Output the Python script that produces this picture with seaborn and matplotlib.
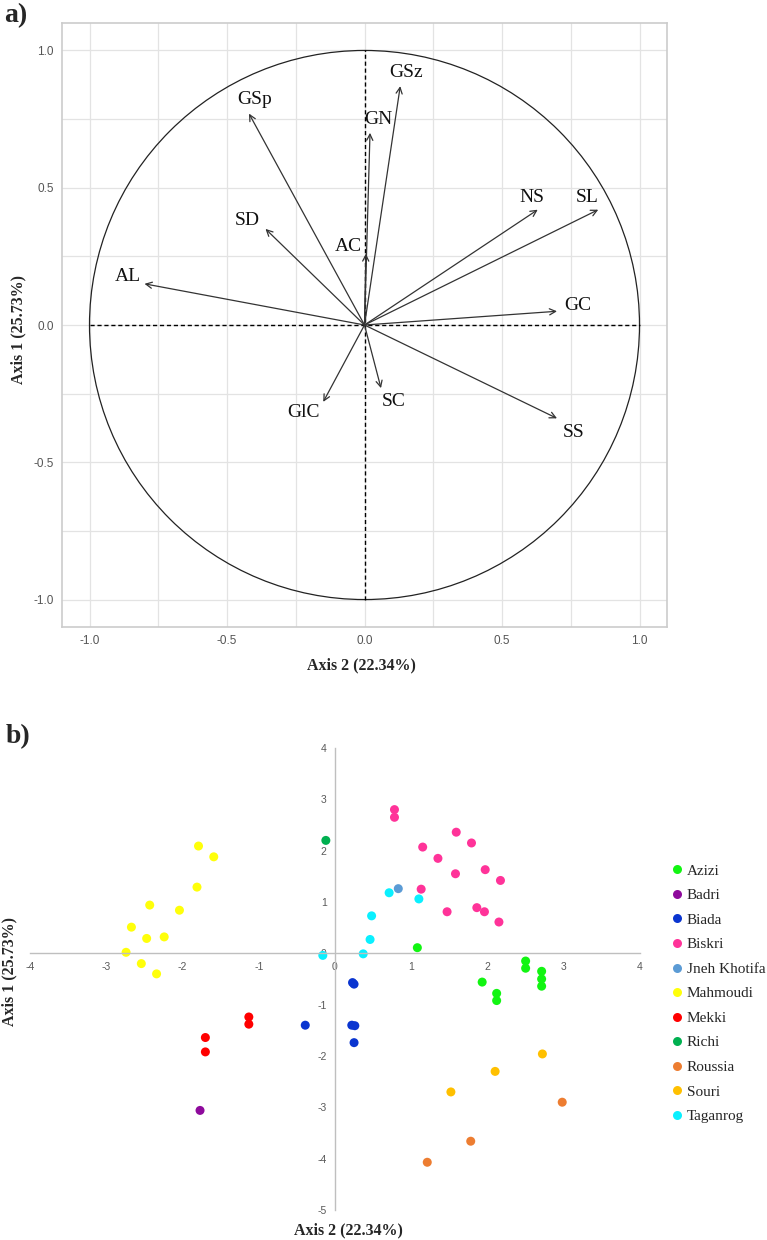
import matplotlib
matplotlib.use("Agg")
import matplotlib.pyplot as plt
from matplotlib.patches import Circle
from matplotlib.ticker import MultipleLocator
import pandas as pd
import seaborn as sns

# ---- a) correlation circle: loadings on (Axis 2, Axis 1) ----
variables = ['GSz', 'GN', 'GSp', 'SD', 'AC', 'AL', 'NS', 'SL', 'GC', 'SS', 'SC', 'GlC']
axis2_load = [0.13, 0.02, -0.42, -0.36, 0.005, -0.80, 0.63, 0.85, 0.70, 0.70, 0.06, -0.15]
axis1_load = [0.87, 0.70, 0.77, 0.35, 0.26, 0.15, 0.42, 0.42, 0.05, -0.34, -0.23, -0.28]

# ---- b) individuals on (Axis 2, Axis 1), one list pair per cultivar ----
cultivars = ['Azizi', 'Badri', 'Biada', 'Biskri', 'Jneh Khotifa', 'Mahmoudi',
             'Mekki', 'Richi', 'Roussia', 'Souri', 'Taganrog']
azizi_x = [1.08, 2.50, 2.50, 2.71, 2.71, 2.71, 1.93, 2.12, 2.12]
azizi_y = [0.11, -0.15, -0.29, -0.35, -0.50, -0.64, -0.56, -0.78, -0.92]
badri_x = [-1.77]
badri_y = [-3.06]
biada_x = [0.23, 0.25, -0.39, 0.22, 0.26, 0.25]
biada_y = [-0.57, -0.60, -1.40, -1.40, -1.41, -1.74]
biskri_x = [0.78, 0.78, 1.59, 1.79, 1.15, 1.35, 1.97, 1.58, 2.17, 1.13, 1.47, 1.86, 1.96, 2.15]
biskri_y = [2.80, 2.65, 2.36, 2.15, 2.07, 1.85, 1.63, 1.55, 1.42, 1.25, 0.81, 0.89, 0.81, 0.61]
jneh_x = [0.83]
jneh_y = [1.26]
mahmoudi_x = [-1.79, -1.59, -1.81, -2.43, -2.04, -2.67, -2.47, -2.24, -2.74, -2.54, -2.34]
mahmoudi_y = [2.09, 1.88, 1.29, 0.94, 0.84, 0.51, 0.29, 0.32, 0.02, -0.20, -0.40]
mekki_x = [-1.13, -1.13, -1.70, -1.70]
mekki_y = [-1.24, -1.38, -1.64, -1.92]
richi_x = [-0.12]
richi_y = [2.20]
roussia_x = [2.98, 1.78, 1.21]
roussia_y = [-2.90, -3.66, -4.07]
souri_x = [2.72, 2.10, 1.52]
souri_y = [-1.96, -2.30, -2.70]
taganrog_x = [0.71, 1.10, 0.48, 0.46, 0.37, -0.16]
taganrog_y = [1.18, 1.06, 0.73, 0.27, -0.01, -0.04]

colours = {'Azizi': '#12f512', 'Badri': '#8e0a9c', 'Biada': '#0a35d0',
           'Biskri': '#ff3399', 'Jneh Khotifa': '#5b9bd5', 'Mahmoudi': '#ffff0a',
           'Mekki': '#ff0000', 'Richi': '#00b050', 'Roussia': '#ed7d31',
           'Souri': '#ffc000', 'Taganrog': '#0af0ff'}

xs = [azizi_x, badri_x, biada_x, biskri_x, jneh_x, mahmoudi_x, mekki_x, richi_x,
      roussia_x, souri_x, taganrog_x]
ys = [azizi_y, badri_y, biada_y, biskri_y, jneh_y, mahmoudi_y, mekki_y, richi_y,
      roussia_y, souri_y, taganrog_y]
frames = []
for name, x, y in zip(cultivars, xs, ys):
    frames.append(pd.DataFrame({'axis2': x, 'axis1': y, 'cultivar': name}))
ind = pd.concat(frames, ignore_index=True)

sns.set_theme(style='whitegrid')
plt.rcParams['font.family'] = ['Liberation Sans', 'DejaVu Sans']
plt.rcParams['axes.unicode_minus'] = False
serif = ['Liberation Serif', 'DejaVu Serif']

fig = plt.figure(figsize=(7.67, 12.40), dpi=100)
W, H = 767.0, 1240.0

# ------------------------- panel a -------------------------
ax = fig.add_axes([62 / W, 1 - 627 / H, 605 / W, 604 / H])
ax.set_xlim(-1.1, 1.1)
ax.set_ylim(-1.1, 1.1)
ax.xaxis.set_major_locator(MultipleLocator(0.5))
ax.yaxis.set_major_locator(MultipleLocator(0.5))
ax.xaxis.set_minor_locator(MultipleLocator(0.25))
ax.yaxis.set_minor_locator(MultipleLocator(0.25))
ax.grid(True, which='both', color='#e3e3e3', linewidth=0.9)
ax.set_axisbelow(True)
for s in ax.spines.values():
    s.set_color('#cccccc')
    s.set_linewidth(1.2)
ax.tick_params(which='major', length=3, color='#bbbbbb', labelsize=8.5,
               labelcolor='#555555', pad=3)
ax.tick_params(which='minor', length=0)

ax.add_patch(Circle((0, 0), 1, fill=False, edgecolor='#222222', linewidth=0.9))
ax.hlines(0, -1, 1, colors='black', linestyles=(0, (3, 2)), linewidth=1.0)
ax.vlines(0, -1, 1, colors='black', linestyles=(0, (3, 2)), linewidth=1.0)

# label offsets from arrow tip (layout only)
label_off = {'GSz': (0.02, 0.05), 'GN': (0.03, 0.05), 'GSp': (0.02, 0.05),
             'SD': (-0.065, 0.03), 'AC': (-0.065, 0.025), 'AL': (-0.06, 0.025),
             'NS': (-0.02, 0.045), 'SL': (-0.04, 0.045), 'GC': (0.075, 0.02),
             'SS': (0.06, -0.05), 'SC': (0.045, -0.05), 'GlC': (-0.07, -0.04)}
for v, x, y in zip(variables, axis2_load, axis1_load):
    ax.annotate('', xy=(x, y), xytext=(0, 0),
                arrowprops=dict(arrowstyle='->', color='#333333', lw=0.9,
                                shrinkA=0, shrinkB=0, mutation_scale=11))
    dx, dy = label_off[v]
    ax.text(x + dx, y + dy, v, family=serif, fontsize=14, ha='center',
            va='center', color='#111111')

ax.set_xlabel('')
ax.set_ylabel('')
fig.text(361 / W, 1 - 665 / H, 'Axis 2 (22.34%)', family=serif, fontsize=11.5,
         fontweight='bold', ha='center', va='center')
fig.text(18 / W, 1 - 330 / H, 'Axis 1 (25.73%)', family=serif, fontsize=11.5,
         fontweight='bold', ha='center', va='center', rotation=90)
fig.text(4 / W, 1 - 16 / H, 'a)', family=serif, fontsize=20, fontweight='bold',
         ha='left', va='center')

# ------------------------- panel b -------------------------
ax2 = fig.add_axes([30 / W, 1 - 1210 / H, 610 / W, 462 / H])
sns.scatterplot(data=ind, x='axis2', y='axis1', hue='cultivar', hue_order=cultivars,
                palette=colours, s=42, linewidth=0, ax=ax2, clip_on=False)
ax2.set_xlim(-4, 4)
ax2.set_ylim(-5, 4)
ax2.grid(False)
ax2.set_facecolor('none')
ax2.set_xticks(range(-4, 5))
ax2.set_yticks(range(-5, 5))
ax2.spines['left'].set_position(('data', 0))
ax2.spines['bottom'].set_position(('data', 0))
ax2.spines['top'].set_visible(False)
ax2.spines['right'].set_visible(False)
for s in ['left', 'bottom']:
    ax2.spines[s].set_color('#bfbfbf')
    ax2.spines[s].set_linewidth(1.0)
ax2.tick_params(direction='out', length=4, width=1, color='#bfbfbf',
                labelsize=7.5, labelcolor='#595959', pad=2)
ax2.set_xlabel('')
ax2.set_ylabel('')

sns.move_legend(ax2, loc='upper left', bbox_to_anchor=((672 - 30) / 610, (1210 - 864) / 462),
                title=None, frameon=False, borderpad=0, borderaxespad=0,
                handlelength=0.6, handletextpad=0.35, labelspacing=0.71,
                prop={'family': serif, 'size': 11})

fig.text(348 / W, 1 - 1230 / H, 'Axis 2 (22.34%)', family=serif, fontsize=11.5,
         fontweight='bold', ha='center', va='center')
fig.text(9 / W, 1 - 971 / H, 'Axis 1 (25.73%)', family=serif, fontsize=11.5,
         fontweight='bold', ha='center', va='center', rotation=90)
fig.text(6 / W, 1 - 737 / H, 'b)', family=serif, fontsize=20, fontweight='bold',
         ha='left', va='center')

fig.savefig('out.png', dpi=100)
